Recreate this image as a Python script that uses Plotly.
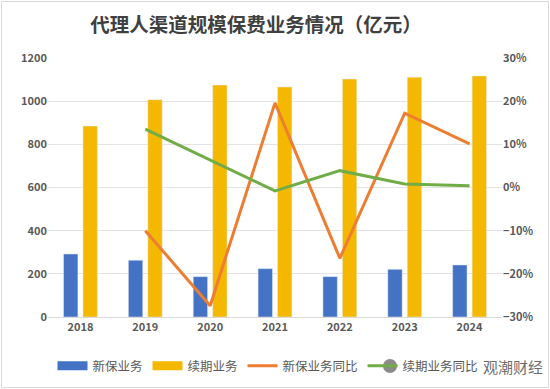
import plotly.graph_objects as go

years = ["2018", "2019", "2020", "2021", "2022", "2023", "2024"]
new_biz = [292, 263, 187, 224, 187, 221, 241]
renew_biz = [885, 1007, 1075, 1066, 1103, 1111, 1117]
new_yoy = [None, -0.100, -0.274, 0.196, -0.164, 0.172, 0.101]
renew_yoy = [None, 0.135, 0.064, -0.008, 0.039, 0.008, 0.004]

FONT = "Noto Sans CJK SC"
GRAY = "#595959"
BLUE, GOLD, ORANGE, GREEN = "#4472C4", "#F5B800", "#ED7D31", "#70AD47"

fig = go.Figure()
fig.add_trace(go.Bar(x=years, y=new_biz, name="新保业务", marker_color=BLUE,
                     showlegend=False, legendgroup="a"))
fig.add_trace(go.Bar(x=years, y=renew_biz, name="续期业务", marker_color=GOLD,
                     showlegend=False, legendgroup="b"))
# legend-only entries giving wide rectangle swatches like the original
fig.add_trace(go.Scatter(x=[None], y=[None], name="新保业务", mode="lines",
                         line=dict(color=BLUE, width=9), legendgroup="a"))
fig.add_trace(go.Scatter(x=[None], y=[None], name="续期业务", mode="lines",
                         line=dict(color=GOLD, width=9), legendgroup="b"))
fig.add_trace(go.Scatter(x=years, y=new_yoy, name="新保业务同比", mode="lines",
                         line=dict(color=ORANGE, width=3), yaxis="y2"))
fig.add_trace(go.Scatter(x=years, y=renew_yoy, name="续期业务同比", mode="lines",
                         line=dict(color=GREEN, width=3), yaxis="y2"))

fig.update_layout(
    width=550, height=389,
    margin=dict(l=48, r=48, t=58, b=72, autoexpand=False),
    paper_bgcolor="white", plot_bgcolor="white",
    font=dict(family=FONT, color=GRAY, size=11),
    title=dict(text="代理人渠道规模保费业务情况（亿元）", x=256 / 550, xanchor="center",
               y=1 - 25 / 389, yanchor="middle",
               font=dict(family=FONT, size=19.5, color="#404040", weight="bold")),
    barmode="group", bargap=0.4, bargroupgap=0.26,
    showlegend=True,
    legend=dict(orientation="h", x=(268 - 48) / 454, xanchor="center", y=-0.19, yanchor="middle",
                font=dict(size=12.5, color=GRAY), itemwidth=30, traceorder="normal",
                bgcolor="rgba(0,0,0,0)"),
    xaxis=dict(showgrid=False, showline=True, linecolor="#D9D9D9", ticks="",
               tickfont=dict(size=11, color=GRAY, weight="bold")),
    yaxis=dict(range=[0, 1200], dtick=200, showgrid=True, gridcolor="#E3E3E3",
               zeroline=False, ticks="", tickfont=dict(size=11, color=GRAY, weight="bold")),
    yaxis2=dict(range=[-0.3, 0.3], dtick=0.1, tickformat=".0%", overlaying="y", side="right",
                showgrid=False, zeroline=False, ticks="",
                tickfont=dict(size=11, color=GRAY, weight="bold")),
    shapes=[
        dict(type="rect", xref="paper", yref="paper",
             x0=(1.5 - 48) / 454, x1=(548.5 - 48) / 454,
             y0=(317 - 387.5) / 259, y1=(317 - 1.5) / 259,
             line=dict(color="#D9D9D9", width=1), layer="below"),
        dict(type="circle", xref="paper", yref="paper",
             x0=(383 - 48) / 454, x1=(397 - 48) / 454,
             y0=(317 - 373) / 259, y1=(317 - 359) / 259,
             fillcolor="rgba(90,90,90,0.7)", line=dict(width=0), layer="above"),
    ],
    annotations=[dict(text="观潮财经", xref="paper", yref="paper",
                      x=(545 - 48) / 454, y=(317 - 366) / 259, xanchor="right", yanchor="middle",
                      showarrow=False,
                      font=dict(size=15, color="#6E6E6E"))],
)

fig.write_html("out.html", config={"displayModeBar": False},
               post_script="document.body.style.margin='0';")
